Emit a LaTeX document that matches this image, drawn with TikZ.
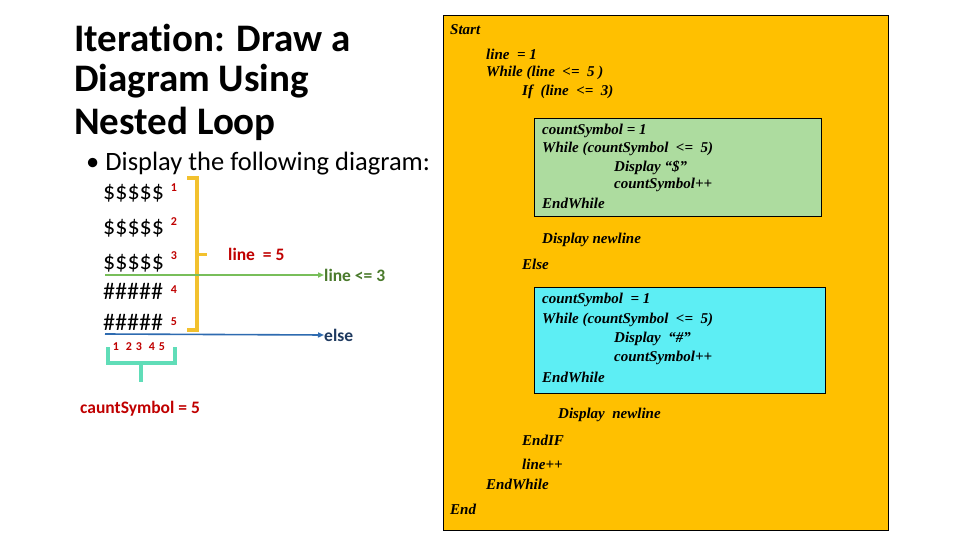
\documentclass[tikz,border=0pt]{standalone}
\usepackage{fontspec}
\setmainfont[Ligatures=NoCommon]{Carlito}
\newfontfamily\codefont{Liberation Serif}
\usetikzlibrary{arrows.meta}
\definecolor{boxorange}{HTML}{FFC000}
\definecolor{boxgreen}{HTML}{ADDC9F}
\definecolor{boxcyan}{HTML}{5DEEF4}
\definecolor{redtxt}{HTML}{C00000}
\definecolor{goldline}{HTML}{F2C12E}
\definecolor{greenline}{HTML}{78BE5A}
\definecolor{greentxt}{HTML}{4A7A2C}
\definecolor{blueline}{HTML}{2E6BB0}
\definecolor{bluetxt}{HTML}{1F3A60}
\definecolor{tealline}{HTML}{60DDB8}
\tikzset{
  code/.style={anchor=west, inner sep=0pt, font=\codefont\bfseries\itshape\fontsize{15}{17}\selectfont},
  title/.style={anchor=west, inner sep=0pt, font=\bfseries\fontsize{39}{42}\selectfont},
  bullet/.style={anchor=west, inner sep=0pt, font=\fontsize{26.5}{30}\selectfont},
  sym/.style={anchor=west, inner sep=0pt, font=\fontsize{24}{27}\selectfont},
  num/.style={inner sep=0pt, text=redtxt, font=\bfseries\fontsize{12}{13}\selectfont},
  lbl/.style={anchor=west, inner sep=0pt, font=\bfseries\fontsize{17.5}{20}\selectfont},
  cbox/.style={draw=black, line width=0.8pt}
}
\begin{document}
\begin{tikzpicture}[x=1pt,y=-1pt]
\useasboundingbox[fill=white] (0,0) rectangle (960,540);
% title
\node[title] (t1) at (74,38) {Iteration: Draw a};
\node[title] (t2) at (74,81) {Diagram Using};
\node[title] (t3) at (74,124) {Nested Loop};
\node[bullet] (b1) at (86,164) {\textbullet\ Display the following diagram:};
% symbol rows
\node[sym] (r1) at (103,193) {\$\$\$\$\$};
\node[sym] (r2) at (103,228) {\$\$\$\$\$};
\node[sym] (r3) at (103,263) {\$\$\$\$\$};
\node[sym] (r4) at (103,291) {\#\#\#\#\#};
\node[sym] (r5) at (103,322) {\#\#\#\#\#};
\node[num] (n1) at (174,188) {1};
\node[num] (n2) at (174,222) {2};
\node[num] (n3) at (174,256) {3};
\node[num] (n4) at (174,290) {4};
\node[num] (n5) at (174,322) {5};
% gold bracket
\coordinate (ga) at (187,178);
\coordinate (gb) at (197,178);
\coordinate (gc) at (197,330);
\coordinate (gd) at (187,330);
\coordinate (gm) at (197,254);
\coordinate (gn) at (207,254);
\draw[goldline, line width=3.5pt] (ga) -- (gb) -- (gc) -- (gd);
\draw[goldline, line width=3pt] (gm) -- (gn);
\node[lbl, text=redtxt] (l5) at (228,254) {line \ = 5};
% arrows
\coordinate (gs) at (105,275);
\node[lbl, text=greentxt] (lt3) at (324,275) {line <= 3};
\draw[greenline, line width=1.6pt, -{Triangle[length=6pt,width=5pt]}] (gs) -- (lt3.west);
\coordinate (bs) at (105,334);
\node[lbl, text=bluetxt] (els) at (324,335) {else};
\draw[blueline, line width=1.6pt, -{Triangle[length=6pt,width=5pt]}] (bs) -- (els.west);
% column numbers
\node[num] (c1) at (116,347) {1};
\node[num] (c2) at (129,347) {2};
\node[num] (c3) at (139,347) {3};
\node[num] (c4) at (152,347) {4};
\node[num] (c5) at (162,347) {5};
% teal brace
\coordinate (ta) at (108,347);
\coordinate (tb) at (108,363);
\coordinate (tc) at (175,363);
\coordinate (td) at (175,347);
\coordinate (te) at (141,363);
\coordinate (tf) at (141,382);
\draw[tealline, line width=3.5pt] (ta) -- (tb) -- (tc) -- (td);
\draw[tealline, line width=3.5pt] (te) -- (tf);
\node[lbl, text=redtxt] (cs) at (80,409) {cauntSymbol = 5};
% code box
\draw[cbox, fill=boxorange] (443,15) rectangle (888,530);
\draw[cbox, fill=boxgreen] (534,118) rectangle (821,216);
\draw[cbox, fill=boxcyan] (534,287) rectangle (825,393);
\node[code] (s1) at (450,30) {Start};
\node[code] (s2) at (486,54) {line \ = 1};
\node[code] (s3) at (486,73) {While (line \ <= \ 5 )};
\node[code] (s4) at (522,92) {If \ (line \ <= \ 3)};
\node[code] (g1) at (542,131) {countSymbol = 1};
\node[code] (g2) at (542,149) {While (countSymbol \ <= \ 5)};
\node[code] (g3) at (614,168) {Display “\$”};
\node[code] (g4) at (614,185) {countSymbol++};
\node[code] (g5) at (542,203) {EndWhile};
\node[code] (s5) at (542,240) {Display newline};
\node[code] (s6) at (522,264) {Else};
\node[code] (h1) at (542,300) {countSymbol \ = 1};
\node[code] (h2) at (542,320) {While (countSymbol \ <= \ 5)};
\node[code] (h3) at (614,339) {Display \ “\#”};
\node[code] (h4) at (614,358) {countSymbol++};
\node[code] (h5) at (542,377) {EndWhile};
\node[code] (s7) at (558,415) {Display \ newline};
\node[code] (s8) at (522,440) {EndIF};
\node[code] (s9) at (522,464) {line++};
\node[code] (s10) at (486,484) {EndWhile};
\node[code] (s11) at (450,509) {End};
\end{tikzpicture}
\end{document}
